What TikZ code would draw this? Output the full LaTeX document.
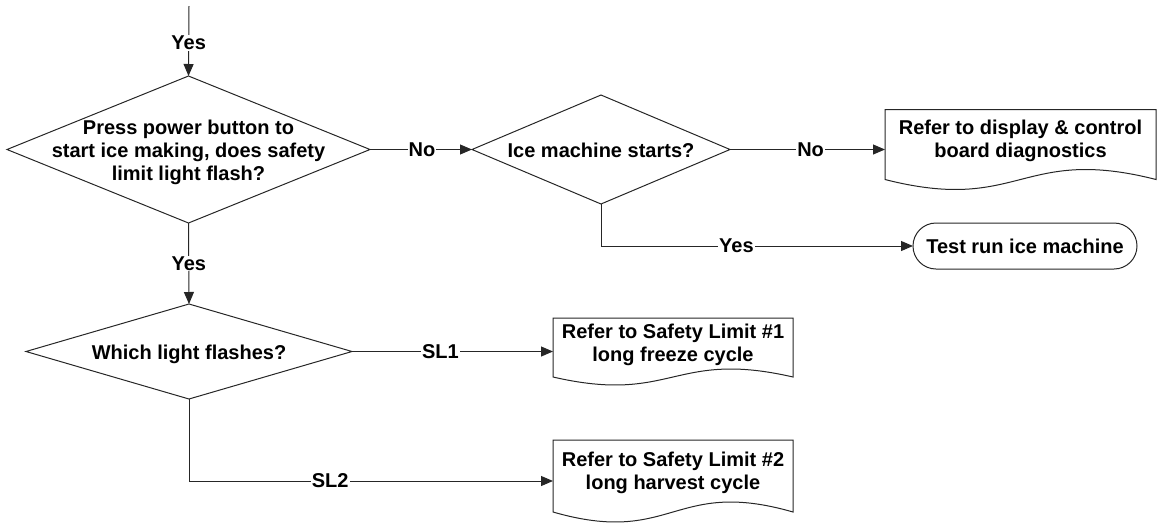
\documentclass[tikz,border=0pt]{standalone}
\usepackage{fontspec}
\setmainfont{Liberation Sans}
\usetikzlibrary{shapes.geometric,arrows.meta,calc}
\definecolor{linec}{HTML}{262626}
\tikzset{
  every node/.style={font=\fontsize{20}{23}\selectfont\bfseries},
  decision/.style={diamond, draw=linec, line width=1pt, inner sep=0pt, outer sep=0pt},
  docbox/.style={rectangle, inner sep=0pt, outer sep=0pt},
  terminal/.style={rectangle, draw=linec, line width=1pt, rounded corners=23pt, inner sep=0pt, outer sep=0pt, minimum width=224pt, minimum height=46pt},
  txt/.style={align=center, inner sep=0pt},
  lbl/.style={fill=white, inner sep=1pt},
  shapeline/.style={draw=linec, line width=1pt},
  flow/.style={draw=linec, line width=1pt, -{Triangle[length=12pt,width=10pt]}},
}
\newcommand\docoutline[2]{%
  \draw[shapeline] (#1.north west) -- (#1.north east) -- ($(#1.south east)+(0,#2)$)
    .. controls ($(#1.south)+(0,{4.46*#2})$) and ($(#1.south)+(0,{-2.46*#2})$) .. ($(#1.south west)+(0,#2)$) -- cycle;}
\begin{document}
\begin{tikzpicture}[x=1pt,y=1pt]
\useasboundingbox (0,0) rectangle (1157,-523);

\coordinate (start) at (189,-6);
\node[decision, minimum width=363pt, minimum height=147pt] (d1) at (188.5,-149.5) {};
\node[txt] (d1t) at (188.5,-152) {Press power button to\\start ice making, does safety\\limit light flash?};

\node[decision, minimum width=258pt, minimum height=109pt] (d2) at (601,-149.5) {};
\node[txt] (d2t) at (601,-150) {Ice machine starts?};

\node[docbox, minimum width=271pt, minimum height=80pt] (diag) at (1020.5,-149.5) {};
\docoutline{diag}{10}
\node[txt] (diagt) at (1020.5,-140.5) {Refer to display \& control\\board diagnostics};

\node[terminal] (term) at (1025,-246) {Test run ice machine};

\node[decision, minimum width=326pt, minimum height=95pt] (d3) at (189,-351.5) {};
\node[txt] (d3t) at (189,-354) {Which light flashes?};

\node[docbox, minimum width=240pt, minimum height=67pt] (doc1) at (673,-351.5) {};
\docoutline{doc1}{8}
\node[txt] (doc1t) at (673,-344.5) {Refer to Safety Limit \#1\\long freeze cycle};

\node[docbox, minimum width=240pt, minimum height=82pt] (doc2) at (673,-481) {};
\docoutline{doc2}{10}
\node[txt] (doc2t) at (673,-472.5) {Refer to Safety Limit \#2\\long harvest cycle};

\draw[flow] (start) -- node[lbl, pos=0.53] (l1) {Yes} (d1.north);
\draw[flow] (d1.east) -- node[lbl, pos=0.51] (l2) {No} (d2.west);
\draw[flow] (d2.east) -- node[lbl, pos=0.52] (l3) {No} (diag.west);
\draw[flow] (d2.south) |- node[lbl, pos=0.717] (l4) {Yes} (term.west);
\draw[flow] (d1.south) -- node[lbl, pos=0.5] (l5) {Yes} (d3.north);
\draw[flow] (d3.east) -- node[lbl, pos=0.44] (l6) {SL1} (doc1.west);
\draw[flow] (d3.south) |- node[lbl, pos=0.694] (l7) {SL2} (doc2.west);
\end{tikzpicture}
\end{document}
